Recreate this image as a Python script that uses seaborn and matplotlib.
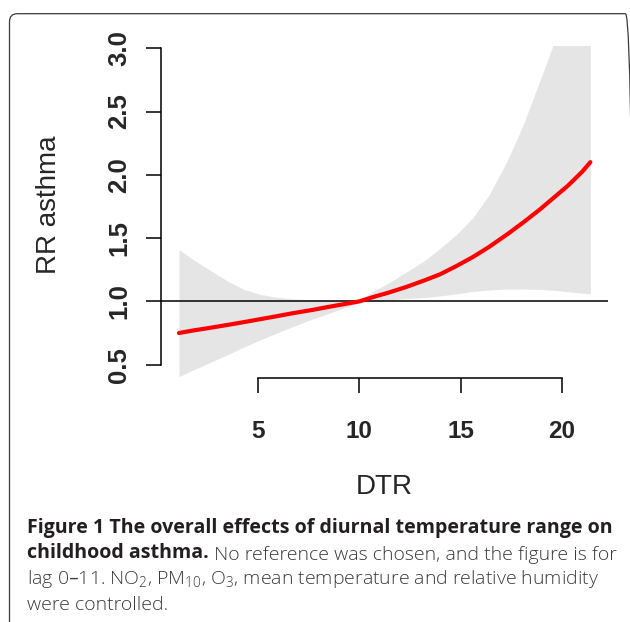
import numpy as np
import pandas as pd
import seaborn as sns
import matplotlib.pyplot as plt
from matplotlib.patches import FancyBboxPatch
from matplotlib.transforms import IdentityTransform

# values
dtr = [1.1, 1.8, 2.6, 3.5, 4.3, 5.1, 5.9, 6.7, 7.6, 8.4, 9.2, 10.0, 10.7, 11.5,
       12.3, 13.2, 14.0, 14.8, 15.6, 16.4, 17.3, 18.1, 18.9, 19.6, 20.3, 21.0, 21.4]
rr = [0.75, 0.77, 0.79, 0.814, 0.836, 0.859, 0.882, 0.906, 0.93, 0.954, 0.977, 1.0,
      1.035, 1.072, 1.113, 1.165, 1.215, 1.28, 1.35, 1.43, 1.53, 1.625, 1.725, 1.82,
      1.915, 2.025, 2.1]
rr_low = [0.405, 0.458, 0.515, 0.578, 0.64, 0.695, 0.748, 0.80, 0.855, 0.90, 0.945, 0.99,
          1.0, 1.012, 1.022, 1.03, 1.043, 1.06, 1.078, 1.09, 1.097, 1.098, 1.094, 1.088,
          1.076, 1.065, 1.058]
rr_high = [1.41, 1.33, 1.25, 1.16, 1.095, 1.055, 1.033, 1.02, 1.012, 1.008, 1.005, 1.01,
           1.08, 1.15, 1.23, 1.32, 1.42, 1.53, 1.66, 1.84, 2.11, 2.40, 2.74, 3.04,
           3.35, 3.7, 3.95]
xticks = [5, 10, 15, 20]
yticks = [0.5, 1.0, 1.5, 2.0, 2.5, 3.0]

df = pd.DataFrame({'DTR': dtr, 'RR': rr, 'low': rr_low, 'high': rr_high})

sns.set_style('white')
plt.rcParams['font.family'] = ['Liberation Sans', 'DejaVu Sans']
plt.rcParams['mathtext.default'] = 'regular'

fig = plt.figure(figsize=(6.3, 6.22), dpi=100)
ax = fig.add_axes([161/630, 1-377.7/622, 447/630, (377.7-45.7)/622])

ax.fill_between(df.DTR, df.low, df.high, color='#E5E5E5', lw=0, zorder=1)
ax.axhline(1.0, color='black', lw=1.1, zorder=2)
sns.lineplot(data=df, x='DTR', y='RR', color='#FF0000', lw=3, ax=ax, zorder=3)

ax.set_xlim(0.215, 22.27)
ax.set_ylim(0.397, 3.02)
ax.set_xticks(xticks)
ax.set_yticks(yticks)
ax.set_xticklabels([str(t) for t in xticks], fontweight='bold', fontsize=17.5)
ax.set_yticklabels(['%.1f' % t for t in yticks], fontweight='bold', fontsize=18.5,
                   rotation=90, va='center')
ax.tick_params(axis='both', length=15.5/1.3889, width=1.1, color='black', direction='out')
ax.tick_params(axis='x', pad=19.5)
ax.tick_params(axis='y', pad=10.5)
ax.tick_params(left=True, bottom=True)
for s in ['top', 'right']:
    ax.spines[s].set_visible(False)
ax.spines['left'].set_bounds(0.5, 3.0)
ax.spines['bottom'].set_bounds(5, 20)
for s in ['left', 'bottom']:
    ax.spines[s].set_linewidth(1.1)
    ax.spines[s].set_color('black')
ax.set_xlabel('DTR', fontsize=20, labelpad=22)
ax.set_ylabel('RR asthma', fontsize=20)
ax.yaxis.set_label_coords(-0.221, 0.52)
ax.patch.set_alpha(0)

# rounded frame of the figure panel
frame = FancyBboxPatch((9.5, -30), 624, 622-13.7+30, boxstyle='round,pad=0,rounding_size=8',
                       transform=IdentityTransform(), fill=False, ec='#3c3c3c', lw=0.9)
fig.add_artist(frame)

# caption
cap = ['Open Sans', 'DejaVu Sans']
bold_c = '#231F20'
reg_c = '#3a3a3a'
fs = 14.1
fs_reg = 14.0
x0 = 27/630
fig.text(x0, 1-532.5/622, 'Figure 1 The overall effects of diurnal temperature range on',
         fontsize=fs, fontweight='bold', family=cap, color=bold_c, va='baseline')
t2 = fig.text(x0, 1-558.5/622, 'childhood asthma.', fontsize=fs, fontweight='bold',
              family=cap, color=bold_c, va='baseline')
ax.annotate(' No reference was chosen, and the figure is for', xy=(1, 0), xycoords=t2,
            va='bottom', ha='left', fontsize=fs_reg, family=cap, color=reg_c,
            fontweight='light', annotation_clip=False)
fig.text(x0, 1-584.5/622, 'lag 0\u201311. NO$_2$, PM$_{10}$, O$_3$, mean temperature and relative humidity',
         fontsize=fs_reg, family=cap, color=reg_c, fontweight='light', va='baseline')
fig.text(x0, 1-610.5/622, 'were controlled.', fontsize=fs_reg, family=cap, color=reg_c,
         fontweight='light', va='baseline')

fig.savefig('out.png', dpi=100)
